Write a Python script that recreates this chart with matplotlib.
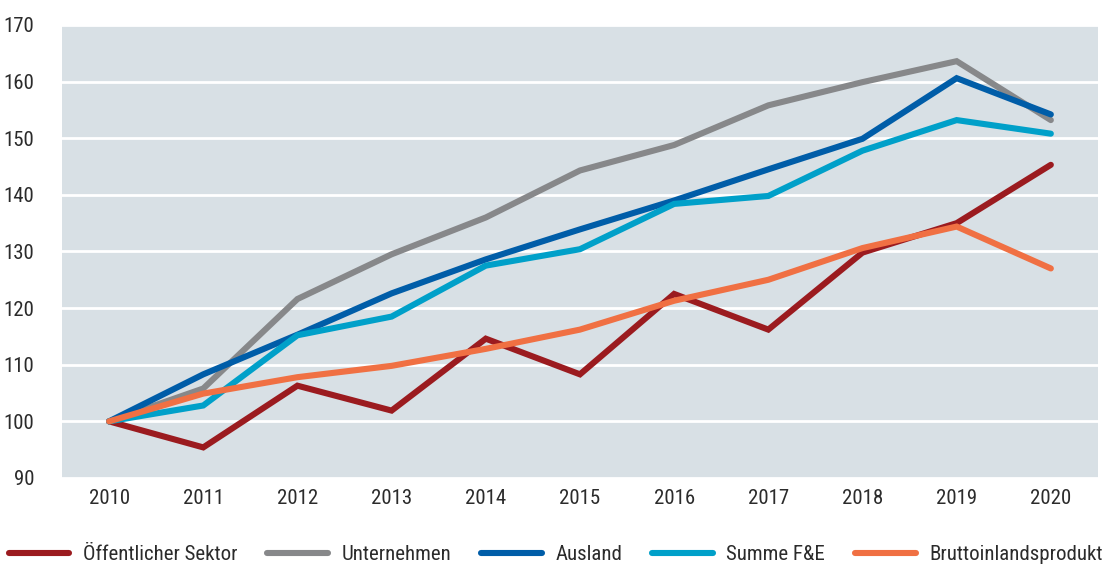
import matplotlib
matplotlib.use("Agg")
import matplotlib.pyplot as plt
from matplotlib import font_manager

years = [2010, 2011, 2012, 2013, 2014, 2015, 2016, 2017, 2018, 2019, 2020]

oeffentlich = [100, 95.4, 106.3, 101.9, 114.6, 108.3, 122.5, 116.2, 129.8, 135.0, 145.3]
unternehmen = [100, 105.8, 121.6, 129.5, 136.0, 144.3, 148.8, 155.8, 159.9, 163.6, 153.2]
ausland = [100, 108.3, 115.3, 122.6, 128.6, 133.9, 139.0, 144.5, 149.9, 160.6, 154.2]
summe_fue = [100, 102.8, 115.2, 118.5, 127.5, 130.4, 138.4, 139.8, 147.8, 153.2, 150.8]
bip = [100, 104.9, 107.8, 109.8, 112.8, 116.2, 121.3, 125.0, 130.6, 134.4, 127.0]

series = [
    ("Öffentlicher Sektor", oeffentlich, "#9b1b1f"),
    ("Unternehmen", unternehmen, "#87888a"),
    ("Ausland", ausland, "#005da8"),
    ("Summe F&E", summe_fue, "#00a0c9"),
    ("Bruttoinlandsprodukt", bip, "#f07043"),
]

yticks = [90, 100, 110, 120, 130, 140, 150, 160, 170]

# condensed face if the machine has one, else the narrowest fallback
installed = {f.name for f in font_manager.fontManager.ttflist}
fams = [f for f in ["Roboto Condensed", "Barlow Condensed", "Liberation Sans Narrow",
                    "DejaVu Sans Condensed", "DejaVu Sans"] if f in installed]
plt.rcParams["font.family"] = fams[:1] + ["DejaVu Sans"]
fs = 15 if fams[0] in ("Roboto Condensed", "Barlow Condensed", "Liberation Sans Narrow") else 12

TXT = "#2b2b2b"

fig = plt.figure(figsize=(11.05, 5.67), dpi=100)
ax = fig.add_axes([0.0561, 0.157, 0.9375, 0.799])
ax.set_facecolor("#d8e0e5")

for label, vals, col in series:
    ax.plot(years, vals, color=col, lw=4.4, label=label,
            solid_capstyle="round", solid_joinstyle="miter")

ax.set_xlim(2009.5, 2020.5)
ax.set_ylim(90, 170)
ax.set_yticks(yticks)
ax.set_xticks(years)
ax.grid(axis="y", color="white", lw=2)
ax.set_axisbelow(True)
for s in ax.spines.values():
    s.set_visible(False)
ax.tick_params(axis="both", length=0, labelsize=fs, labelcolor=TXT)
ax.tick_params(axis="y", pad=20)
ax.tick_params(axis="x", pad=8)

fig.legend(loc="lower center", bbox_to_anchor=(0.503, -0.028), ncol=5, frameon=False,
           fontsize=fs, labelcolor=TXT, handlelength=2.9, handletextpad=0.65,
           columnspacing=1.45)

fig.savefig("out.png", dpi=100)
